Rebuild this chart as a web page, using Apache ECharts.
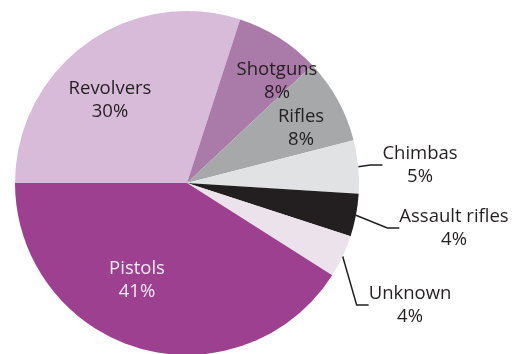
<!DOCTYPE html>
<html><head><meta charset="utf-8">
<script src="https://cdn.jsdelivr.net/npm/echarts@6/dist/echarts.min.js"></script>
<style>html,body{margin:0;padding:0;background:#fff}#c{width:523px;height:354px}</style>
</head><body><div id="c"></div>
<script>
const categories = ['Revolvers','Shotguns','Rifles','Chimbas','Assault rifles','Unknown','Pistols'];
const values = [30, 8, 8, 5, 4, 4, 41];
const colors = ['#d8bbd8','#aa7aa8','#a7a8aa','#e1e2e3','#231f20','#ebe2eb','#9c408f'];
const insideLabels = { 'Revolvers':[110,100], 'Shotguns':[277,81], 'Rifles':[301,128], 'Pistols':[137,280] };
const outsideLabels = { 'Chimbas':[420,165], 'Assault rifles':[454,228], 'Unknown':[410,305] };

const chart = echarts.init(document.getElementById('c'), null, {renderer:'canvas'});
const font = {fontFamily:'Open Sans', fontSize:18.5, lineHeight:23, color:'#231f20'};
chart.setOption({
  animation:false,
  series:[{
    type:'pie',
    center:[187,183],
    radius:172,
    startAngle:180,
    clockwise:true,
    avoidLabelOverlap:false,
    label:Object.assign({show:true, formatter:'{b}\n{c}%', align:'center'}, font),
    labelLine:{show:true, lineStyle:{color:'#231f20', width:1.5}, length:10, length2:12},
    labelLayout:function(p){
      const n = categories[p.dataIndex];
      const pos = insideLabels[n] || outsideLabels[n];
      return {x:pos[0], y:pos[1], align:'center', verticalAlign:'middle'};
    },
    data:categories.map((n,i)=>({
      name:n, value:values[i],
      itemStyle:{color:colors[i]},
      label: insideLabels[n] ? {position:'inside', color: n==='Pistols' ? '#f6e9f3' : '#231f20'} : {position:'outside'},
      labelLine:{show: !insideLabels[n]}
    }))
  }]
});
</script></body></html>
